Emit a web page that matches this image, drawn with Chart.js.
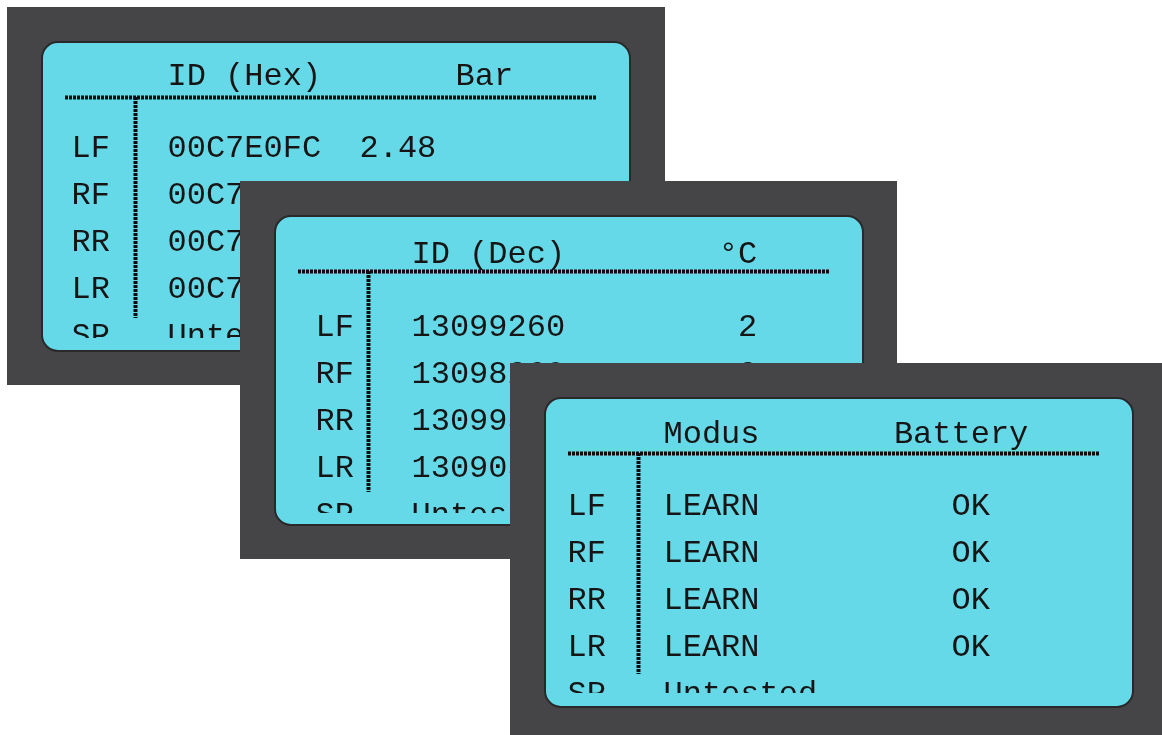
<!DOCTYPE html>
<html>
<head>
<meta charset="utf-8">
<script src="https://cdn.jsdelivr.net/npm/chart.js@4/dist/chart.umd.min.js"></script>
<style>
  html, body { margin: 0; padding: 0; background: #fff; }
  body { width: 1162px; height: 735px; position: relative; overflow: hidden; }
  canvas { position: absolute; }
</style>
</head>
<body>
<canvas id="screenHex" width="658" height="378" style="left:7px;top:7px"></canvas>
<canvas id="screenDec" width="657" height="378" style="left:240px;top:181px"></canvas>
<canvas id="screenMode" width="652" height="372" style="left:510px;top:363px"></canvas>
<script>
// Sensor positions (rows of every screen)
const wheels = ["LF", "RF", "RR", "LR", "SP"];

// Screen 1: ID in hex + pressure
const hexHeaders = ["ID (Hex)", "Bar"];
const hexIds = ["00C7E0FC", "00C7DD14", "00C7E1F8", "00C7BF04", "Untested"];
const pressureBar = ["2.48", "2.51", "2.46", "2.49", ""];

// Screen 2: ID in decimal + temperature
const decHeaders = ["ID (Dec)", "°C"];
const decIds = ["13099260", "13098260", "13099512", "13090564", "Untes"];
const tempC = ["2", "2", "3", "2", ""];

// Screen 3: mode + battery
const modeHeaders = ["Modus", "Battery"];
const modes = ["LEARN", "LEARN", "LEARN", "LEARN", "Untested"];
const battery = ["OK", "OK", "OK", "OK", ""];

const FONT = '32px "Liberation Mono", "Courier New", monospace';
const CHAR_W = 19.2;   // one monospace column
const ROW_H = 47;      // one text row
const HEADER_ROW = -1.54;

// draws the LCD frame, the table rules and the text of each point
const lcdPlugin = {
  id: "lcd",
  beforeDraw(chart) {
    const ctx = chart.ctx;
    const w = chart.width, h = chart.height;
    ctx.save();
    ctx.fillStyle = "#454547";
    ctx.fillRect(0, 0, w, h);

    ctx.beginPath();
    ctx.roundRect(35, 35, 588, 309, 16);
    ctx.fillStyle = "#66d9e8";
    ctx.fill();
    ctx.lineWidth = 2;
    ctx.strokeStyle = "#29292b";
    ctx.stroke();

    ctx.strokeStyle = "#0d0d0d";
    ctx.lineWidth = 4;
    ctx.setLineDash([3, 1]);
    ctx.beginPath();
    ctx.moveTo(58, 90.5);
    ctx.lineTo(590, 90.5);
    ctx.moveTo(128.5, 90);
    ctx.lineTo(128.5, 311);
    ctx.stroke();
    ctx.restore();
  },
  afterDatasetsDraw(chart, args, opts) {
    const ctx = chart.ctx;
    ctx.save();
    ctx.beginPath();
    ctx.rect(35, 35, 588, opts.clipBottom - 35);
    ctx.clip();
    ctx.font = FONT;
    ctx.fillStyle = "#151515";
    ctx.textBaseline = "alphabetic";
    ctx.textAlign = "left";
    chart.data.datasets.forEach((ds, i) => {
      chart.getDatasetMeta(i).data.forEach((el, j) => {
        const txt = ds.data[j].text;
        if (txt) ctx.fillText(txt, el.x, el.y);
      });
    });
    ctx.restore();
  }
};

// column = monospace column where a text column starts
function column(texts, col) {
  return {
    data: texts.map((t, i) => ({ x: col, y: i, text: t })),
    pointRadius: 0
  };
}

function header(texts, cols) {
  return {
    data: texts.map((t, i) => ({ x: cols[i], y: HEADER_ROW, text: t })),
    pointRadius: 0
  };
}

function makeScreen(id, textLeft, firstBaseline, clipBottom, datasets) {
  const canvas = document.getElementById(id);
  const top = firstBaseline - 2 * ROW_H;
  return new Chart(canvas, {
    type: "scatter",
    data: { datasets },
    plugins: [lcdPlugin],
    options: {
      responsive: false,
      devicePixelRatio: 1,
      animation: false,
      events: [],
      layout: {
        padding: {
          left: textLeft,
          right: canvas.width - textLeft - 28 * CHAR_W,
          top: top,
          bottom: canvas.height - top - 6.5 * ROW_H
        }
      },
      scales: {
        x: { type: "linear", display: false, min: 0, max: 28 },
        y: { type: "linear", display: false, min: -2, max: 4.5, reverse: true }
      },
      plugins: {
        legend: { display: false },
        tooltip: { enabled: false },
        lcd: { clipBottom }
      }
    }
  });
}

makeScreen("screenHex", 64.5, 150, 331, [
  header(hexHeaders, [5, 20]),
  column(wheels, 0),
  column(hexIds, 5),
  column(pressureBar, 15)
]);

makeScreen("screenDec", 75.5, 154.7, 332, [
  header(decHeaders, [5, 21]),
  column(wheels, 0),
  column(decIds, 5),
  column(tempC, 22)
]);

makeScreen("screenMode", 57.5, 152, 330, [
  header(modeHeaders, [5, 17]),
  column(wheels, 0),
  column(modes, 5),
  column(battery, 20)
]);
</script>
</body>
</html>
